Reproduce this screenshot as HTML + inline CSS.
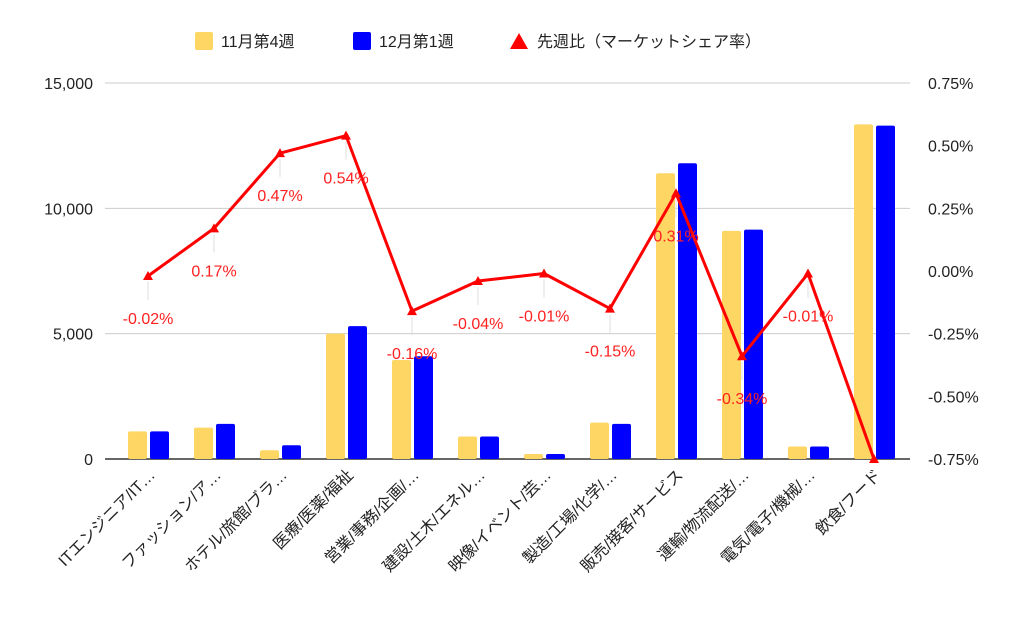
<!DOCTYPE html>
<html><head><meta charset="utf-8"><style>
body{margin:0;background:#fff;}
svg{display:block;font-family:"Liberation Sans","Noto Sans CJK JP",sans-serif;}
</style></head><body>
<svg id="chart" width="1024" height="633" viewBox="0 0 1024 633">
<g id="legend">
  <g><rect x="195" y="32" width="18" height="18" rx="2" fill="#fdd663"/><text x="221" y="47" font-size="16" fill="#222">11月第4週</text></g>
  <g><rect x="353" y="32" width="18" height="18" rx="2" fill="#0000ff"/><text x="379" y="47" font-size="16" fill="#222">12月第1週</text></g>
  <g><polygon points="519,33 528,49 510,49" fill="#ff0000"/><text x="537" y="47" font-size="16" fill="#222">先週比（マーケットシェア率）</text></g>
</g>
<g id="grid"></g>
<g id="bars"></g>
<g id="line"></g>
<g id="xlabels"></g>
</svg>
<script>
const categories=["ITエンジニア/IT…","ファッション/ア…","ホテル/旅館/ブラ…","医療/医薬/福祉","営業/事務/企画/…","建設/土木/エネル…","映像/イベント/芸…","製造/工場/化学/…","販売/接客/サービス","運輸/物流配送/…","電気/電子/機械/…","飲食/フード"];
const novValues=[1100,1250,350,5000,3950,900,200,1450,11400,9100,500,13350];
const decValues=[1100,1400,550,5300,4100,900,200,1400,11800,9150,500,13300];
const shareChange=[-0.02,0.17,0.47,0.54,-0.16,-0.04,-0.01,-0.15,0.31,-0.34,-0.01,-0.75];
const leftTicks=[0,5000,10000,15000];
const leftTickLabels=["0","5,000","10,000","15,000"];
const rightTicks=[-0.75,-0.5,-0.25,0,0.25,0.5,0.75];

const NS="http://www.w3.org/2000/svg";
const y0=459,yTop=83,xL=105,xR=910,x0=148,step=66;
const yL=v=>y0-(v/15000)*(y0-yTop);
const yR=v=>y0-((v+0.75)/1.5)*(y0-yTop);
const xC=i=>x0+i*step;
function mk(tag,attrs,parent){const e=document.createElementNS(NS,tag);for(const k in attrs)e.setAttribute(k,attrs[k]);parent.appendChild(e);return e;}
const grid=document.getElementById('grid');
leftTicks.forEach((t,i)=>{
  const l=mk('line',{x1:xL,x2:xR,y1:yL(t),y2:yL(t),stroke:t===0?'#333':'#ccc','stroke-width':t===0?1.5:1},grid);
  
  
  const tx=mk('text',{x:93,y:yL(t)+6,'text-anchor':'end','font-size':16,fill:'#222'},grid);
  tx.textContent=leftTickLabels[i];
  
  
});
rightTicks.forEach(t=>{
  const tx=mk('text',{x:928,y:yR(t)+6,'font-size':16,fill:'#222'},grid);
  tx.textContent=t.toFixed(2)+'%';
  
  
});
const bars=document.getElementById('bars');
categories.forEach((c,i)=>{
  const a=mk('rect',{x:xC(i)-20,y:yL(novValues[i]),width:19,height:y0-yL(novValues[i]),rx:2,fill:'#fdd663'},bars);
  
  
  const b=mk('rect',{x:xC(i)+2,y:yL(decValues[i]),width:19,height:y0-yL(decValues[i]),rx:2,fill:'#0000ff'},bars);
  
  
  const t=mk('text',{transform:`translate(${xC(i)+8},${476}) rotate(-45)`,'text-anchor':'end','font-size':16,fill:'#222'},document.getElementById('xlabels'));
  t.textContent=c;
  
  
});
const line=document.getElementById('line');
shareChange.forEach((v,i)=>{
  if(i<shareChange.length-1){
    const ll=mk('line',{x1:xC(i),x2:xC(i),y1:yR(v)+6,y2:yR(v)+24,stroke:'#ddd','stroke-width':1},line);
    
    
  }
});
const pts=shareChange.map((v,i)=>xC(i)+','+yR(v)).join(' ');
const pl=mk('polyline',{points:pts,fill:'none',stroke:'#ff0000','stroke-width':3,'stroke-linejoin':'round'},line);


shareChange.forEach((v,i)=>{
  const x=xC(i),y=yR(v);
  const m=mk('polygon',{points:`${x},${y-5} ${x+5},${y+4} ${x-5},${y+4}`,fill:'#ff0000'},line);
  
  
  if(i<shareChange.length-1){
    const t=mk('text',{x:x,y:y+48,'text-anchor':'middle','font-size':16,fill:'#ff2020'},line);
    t.textContent=v.toFixed(2)+'%';
    
    
  }
});
</script>
</body></html>
